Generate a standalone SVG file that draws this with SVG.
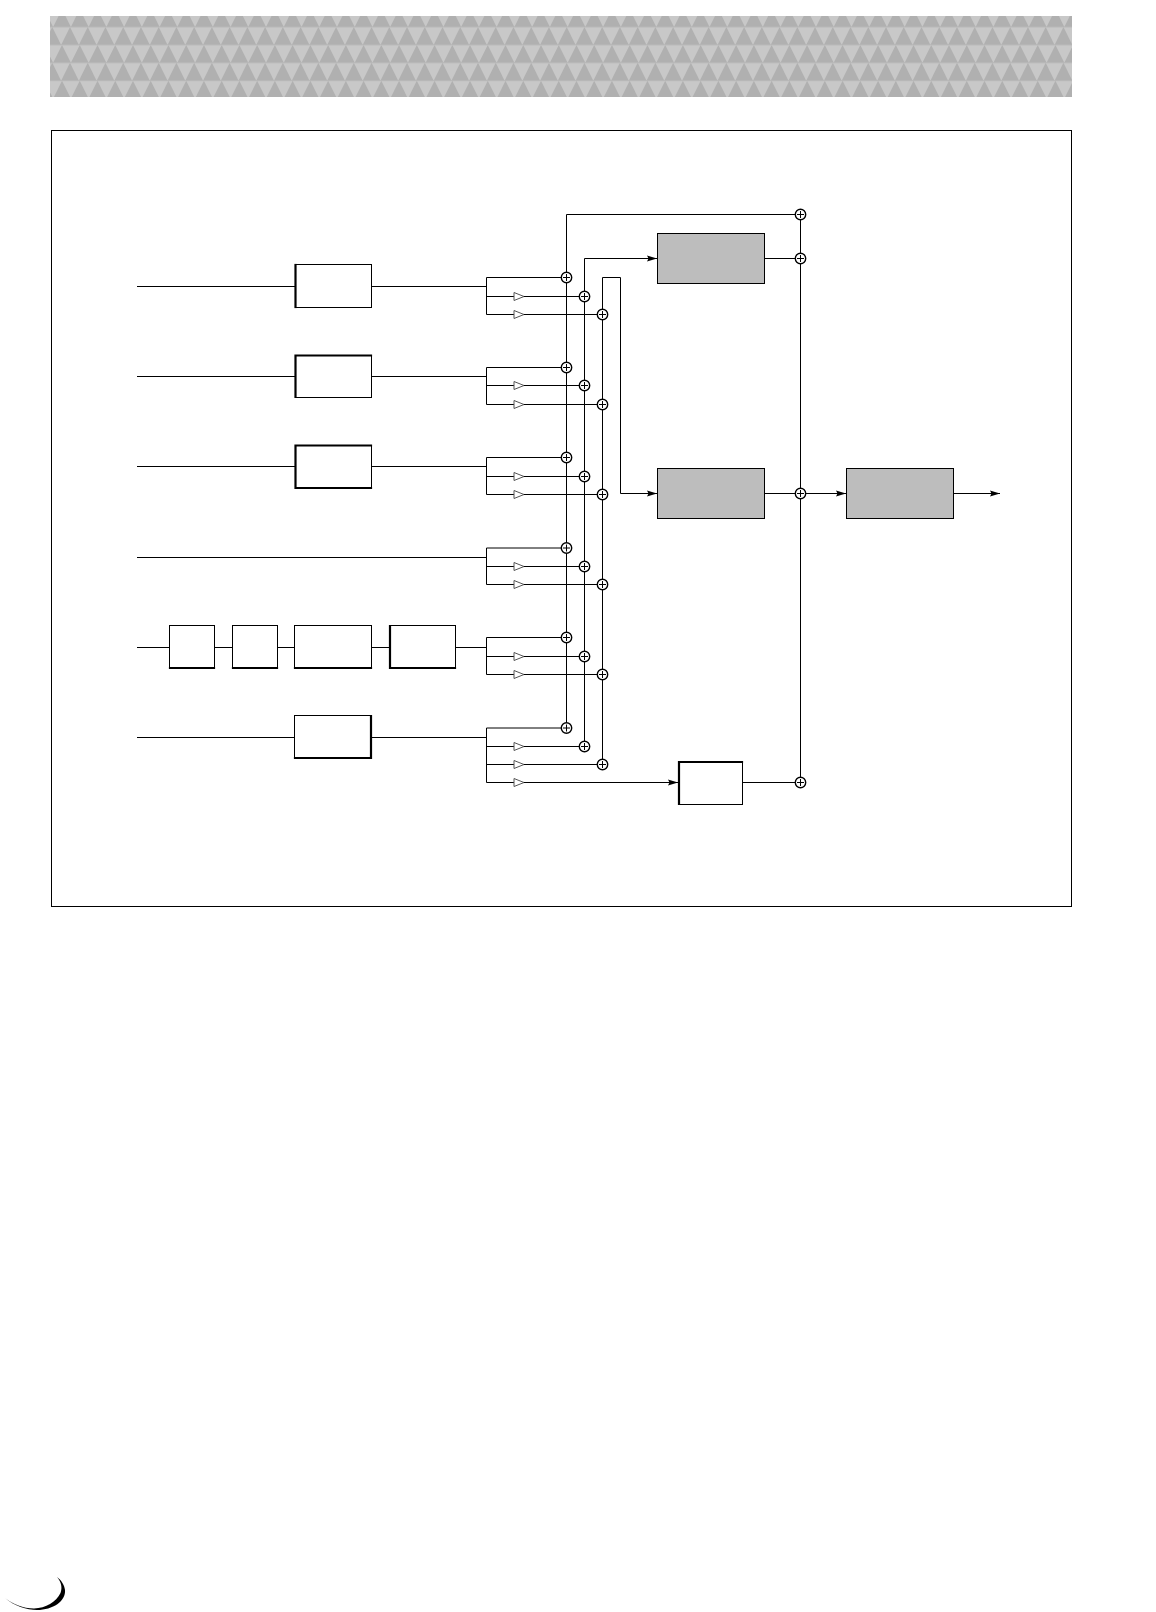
<svg xmlns="http://www.w3.org/2000/svg" width="1156" height="1612" viewBox="0 0 1156 1612">
<style>
.ln{fill:none;stroke:#000;stroke-width:1}
.box{fill:#fff;stroke:#000;stroke-width:1}
.gray{fill:#bdbdbd;stroke:#000;stroke-width:1}
.thick{fill:none;stroke:#000;stroke-width:2.2;stroke-linecap:square}
.amp{fill:#fff;stroke:#555;stroke-width:1}
.arr{marker-end:url(#ah)}
</style>
<defs>
<clipPath id="bclip"><rect x="50" y="16" width="1022" height="81"/></clipPath>
<polygon id="t" points="8.87,0 17.74,17.9 0,17.9" fill="#b0b0b0"/>
<g id="t4"><use href="#t"/><use href="#t" x="17.74"/><use href="#t" x="35.48"/><use href="#t" x="53.22"/></g>
<g id="t16"><use href="#t4"/><use href="#t4" x="70.96"/><use href="#t4" x="141.92"/><use href="#t4" x="212.88"/></g>
<g id="trow"><use href="#t16"/><use href="#t16" x="283.84"/><use href="#t16" x="567.68"/><use href="#t16" x="851.52"/></g>
<marker id="ah" markerUnits="userSpaceOnUse" markerWidth="11" markerHeight="7" refX="10" refY="3.5" orient="auto">
<path d="M0 0.5L10 3.5L0 6.5L1.5 3.5Z" fill="#000"/>
</marker>
<g id="sum"><circle r="5.2" fill="#fff" stroke="#000" stroke-width="1.4"/><path d="M-3.5 0H3.5M0 -3.5V3.5" stroke="#000" stroke-width="1" fill="none"/></g>
<polygon id="amp" class="amp" points="0,-4 10,0 0,4"/>
</defs>

<g id="banner" clip-path="url(#bclip)">
<rect x="50" y="16" width="1022" height="81" fill="#c8c8c8"/>
<use href="#trow" x="35.4" y="9.1"/>
<use href="#trow" x="43.39" y="27"/>
<use href="#trow" x="35.4" y="44.9"/>
<use href="#trow" x="43.39" y="62.8"/>
<use href="#trow" x="35.4" y="80.7"/>
<path d="M50 27H1072M50 44.9H1072M50 62.8H1072M50 80.7H1072" stroke="#b8b8b8" stroke-width="1" fill="none"/>
</g>
<rect id="frame" x="51.5" y="130.5" width="1020" height="776" fill="none" stroke="#000" stroke-width="1"/>

<g id="connectors">
<path class="ln" d="M137 286.5H295M371.5 286.5H486.5M137 376.5H295M371.5 376.5H486.5M137 466.5H295M371.5 466.5H486.5M137 557.5H486.5M137 647.5H169.5M214.5 647.5H232.5M277.5 647.5H294.5M371.5 647.5H389.5M455.5 647.5H486.5M137 737.5H294.5M371.5 737.5H486.5"/>
<path class="ln" d="M566.5 277.5H486.5V314.5H602.5M486.5 296.5H584.5"/>
<path class="ln" d="M566.5 367.5H486.5V404.5H602.5M486.5 385.5H584.5"/>
<path class="ln" d="M566.5 457.5H486.5V494.5H602.5M486.5 476.5H584.5"/>
<path class="ln" d="M566.5 548H486.5V584.5H602.5M486.5 566.5H584.5"/>
<path class="ln" d="M566.5 637.5H486.5V674.5H602.5M486.5 656.5H584.5"/>
<path class="ln" d="M566.5 728H486.5V782.5M486.5 746.5H584.5M486.5 764.5H602.5"/>
<path class="ln arr" d="M486.5 782.5H678"/>
<path class="ln" d="M566.5 728V214.5H800.5"/>
<path class="ln arr" d="M584.5 746.5V258.5H657"/>
<path class="ln arr" d="M602.5 764.5V277.5H620.5V493.5H657"/>
<path class="ln" d="M800.5 214.5V782.5M765 258.5H800.5M765 493.5H800.5M743 782.5H800.5"/>
<path class="ln arr" d="M800.5 493.5H846"/>
<path class="ln arr" d="M954 493.5H1000"/>
</g>

<g id="box-1"><rect class="box" x="295.5" y="264.5" width="76" height="43"/><path class="thick" d="M295.5 265V307"/></g>
<g id="box-2"><rect class="box" x="295.5" y="355.5" width="76" height="42"/><path class="thick" d="M295.5 397V355.5H371"/></g>
<g id="box-3"><rect class="box" x="295.5" y="445.5" width="76" height="42.5"/><path class="thick" d="M295.5 488V445.5H371M295.5 488H371"/></g>
<g id="box-5a"><rect class="box" x="169.5" y="625.5" width="45" height="42.5"/><path class="thick" d="M170 668H214"/></g>
<g id="box-5b"><rect class="box" x="232.5" y="625.5" width="45" height="42.5"/><path class="thick" d="M233 668H277"/></g>
<g id="box-5c"><rect class="box" x="294.5" y="625.5" width="77" height="42.5"/><path class="thick" d="M295 668H371"/></g>
<g id="box-5d"><rect class="box" x="389.5" y="625.5" width="66" height="42.5"/><path class="thick" d="M390 626V668H455"/></g>
<g id="box-6"><rect class="box" x="294.5" y="715.5" width="77" height="42.5"/><path class="thick" d="M295 758H371V716"/></g>
<g id="box-7"><rect class="box" x="679" y="762" width="63.5" height="42.5"/><path class="thick" d="M679 804V762H742"/></g>
<g id="gray-1"><rect class="gray" x="657.5" y="233.5" width="107" height="50"/></g>
<g id="gray-2"><rect class="gray" x="657.5" y="468.5" width="107" height="50"/></g>
<g id="gray-3"><rect class="gray" x="846.5" y="468.5" width="107" height="50"/></g>

<g id="amps">
<use href="#amp" x="514" y="296.5"/><use href="#amp" x="514" y="314.5"/>
<use href="#amp" x="514" y="385.5"/><use href="#amp" x="514" y="404.5"/>
<use href="#amp" x="514" y="476.5"/><use href="#amp" x="514" y="494.5"/>
<use href="#amp" x="514" y="566.5"/><use href="#amp" x="514" y="584.5"/>
<use href="#amp" x="514" y="656.5"/><use href="#amp" x="514" y="674.5"/>
<use href="#amp" x="514" y="746.5"/><use href="#amp" x="514" y="764.5"/><use href="#amp" x="514" y="782.5"/>
</g>
<g id="sums">
<use href="#sum" x="566.5" y="277.5"/><use href="#sum" x="584.5" y="296.5"/><use href="#sum" x="602.5" y="314.5"/>
<use href="#sum" x="566.5" y="367.5"/><use href="#sum" x="584.5" y="385.5"/><use href="#sum" x="602.5" y="404.5"/>
<use href="#sum" x="566.5" y="457.5"/><use href="#sum" x="584.5" y="476.5"/><use href="#sum" x="602.5" y="494.5"/>
<use href="#sum" x="566.5" y="548"/><use href="#sum" x="584.5" y="566.5"/><use href="#sum" x="602.5" y="584.5"/>
<use href="#sum" x="566.5" y="637.5"/><use href="#sum" x="584.5" y="656.5"/><use href="#sum" x="602.5" y="674.5"/>
<use href="#sum" x="566.5" y="728"/><use href="#sum" x="584.5" y="746.5"/><use href="#sum" x="602.5" y="764.5"/>
<use href="#sum" x="800.5" y="214.5"/><use href="#sum" x="800.5" y="258.5"/><use href="#sum" x="800.5" y="493.5"/><use href="#sum" x="800.5" y="782.5"/>
</g>
<path id="page-curl" d="M5 1598C14 1606 27 1610 37 1610C53 1610 66 1601 65 1590C64.5 1585 61 1580 57 1577C61.5 1582 62.5 1588 60.5 1593C56 1602 46 1608 34 1608.5C23 1608.5 13 1604 5 1598Z" fill="#000"/>
</svg>
